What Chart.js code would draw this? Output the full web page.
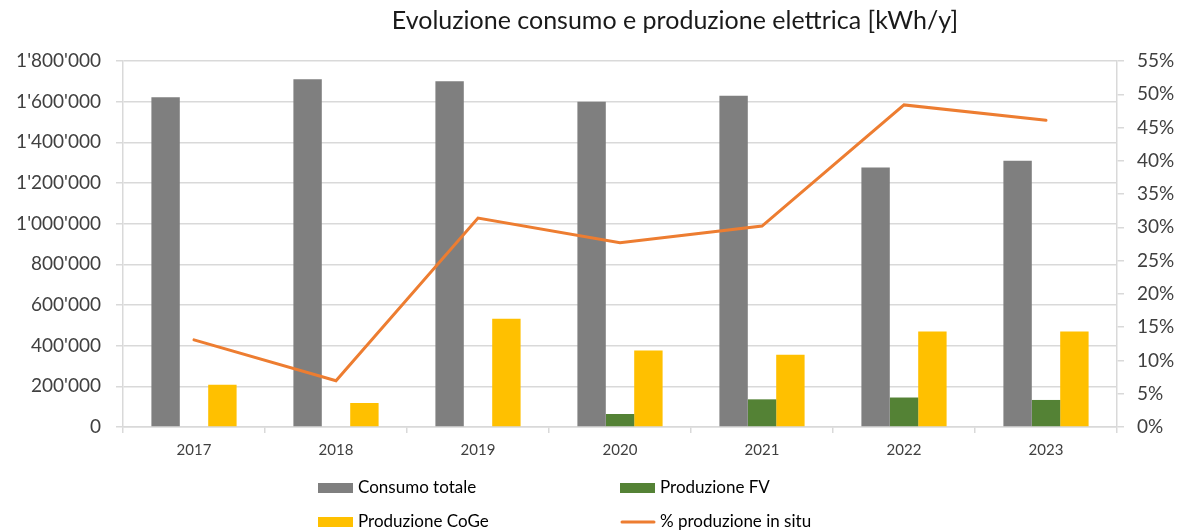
<!DOCTYPE html>
<html>
<head>
<meta charset="utf-8">
<script src="https://cdn.jsdelivr.net/npm/chart.js@4.4.1/dist/chart.umd.min.js"></script>
<style>
  body { margin: 0; background: #fff; }
  canvas { display: block; }
</style>
</head>
<body>
<canvas id="energyChart" width="1183" height="532"></canvas>
<script>
// values
const years = ['2017', '2018', '2019', '2020', '2021', '2022', '2023'];
const consumoTotale = [1622000, 1710000, 1700000, 1600000, 1629000, 1276000, 1310000];
const produzioneFV = [0, 0, 0, 64000, 136000, 145000, 133000];
const produzioneCoGe = [208000, 118000, 532000, 376000, 355000, 470000, 470000];
const percInSitu = [13.1, 6.95, 31.4, 27.7, 30.2, 48.4, 46.1];

const titleText = 'Evoluzione consumo e produzione elettrica [kWh/y]';
const FONT = 'Lato, "Open Sans", sans-serif';
const gridColor = '#d9d9d9';

function withApostrophes(v) {
  return String(v).replace(/\B(?=(\d{3})+(?!\d))/g, "'");
}

// title drawn a bit right of centre, like in the original
const titlePlugin = {
  id: 'offsetTitle',
  afterDraw(chart) {
    const ctx = chart.ctx;
    ctx.save();
    ctx.font = '25px ' + FONT;
    ctx.fillStyle = '#1a1a1a';
    ctx.textAlign = 'center';
    ctx.textBaseline = 'middle';
    ctx.fillText(titleText, 675, 21);
    ctx.restore();
  }
};

// 2x2 legend grid under the axis
const gridLegend = {
  id: 'gridLegend',
  afterDraw(chart) {
    const ctx = chart.ctx;
    const cols = [318, 620];
    const rows = [488, 522];
    ctx.save();
    ctx.font = '17px ' + FONT;
    ctx.textBaseline = 'middle';
    chart.data.datasets.forEach((ds, i) => {
      const x = cols[i % 2];
      const y = rows[Math.floor(i / 2)];
      if (ds.type === 'line') {
        ctx.strokeStyle = ds.borderColor;
        ctx.lineWidth = 3;
        ctx.lineCap = 'round';
        ctx.beginPath();
        ctx.moveTo(x + 2, y);
        ctx.lineTo(x + 34, y);
        ctx.stroke();
      } else {
        ctx.fillStyle = ds.backgroundColor;
        ctx.fillRect(x, y - 5, 35, 10);
      }
      ctx.fillStyle = '#000';
      ctx.fillText(ds.label, x + 40, y);
    });
    ctx.restore();
  }
};

const ctx = document.getElementById('energyChart').getContext('2d');
new Chart(ctx, {
  data: {
    labels: years,
    datasets: [
      {
        type: 'bar',
        label: 'Consumo totale',
        data: consumoTotale,
        backgroundColor: '#7f7f7f',
        yAxisID: 'y',
        order: 1
      },
      {
        type: 'bar',
        label: 'Produzione FV',
        data: produzioneFV,
        backgroundColor: '#548235',
        yAxisID: 'y',
        order: 1
      },
      {
        type: 'bar',
        label: 'Produzione CoGe',
        data: produzioneCoGe,
        backgroundColor: '#ffc000',
        yAxisID: 'y',
        order: 1
      },
      {
        type: 'line',
        label: '% produzione in situ',
        data: percInSitu,
        borderColor: '#ed7d31',
        backgroundColor: '#ed7d31',
        borderWidth: 3,
        borderCapStyle: 'round',
        pointRadius: 0,
        tension: 0,
        yAxisID: 'y1',
        order: 0
      }
    ]
  },
  options: {
    responsive: false,
    animation: false,
    categoryPercentage: 0.6,
    barPercentage: 1.0,
    layout: {
      padding: { top: 61, bottom: 68, left: 0, right: 0 }
    },
    plugins: {
      legend: { display: false },
      title: { display: false },
      tooltip: { enabled: false }
    },
    scales: {
      x: {
        grid: {
          display: true,
          drawOnChartArea: false,
          drawTicks: true,
          tickLength: 6,
          color: gridColor,
          lineWidth: 1.5
        },
        border: { display: true, color: gridColor, width: 1.5 },
        ticks: {
          color: '#404040',
          font: { family: FONT, size: 15 },
          padding: 8
        },
        afterFit(scale) { scale.height = 37; }
      },
      y: {
        position: 'left',
        min: 0,
        max: 1800000,
        grid: {
          color: gridColor,
          lineWidth: 1.5,
          tickLength: 7
        },
        border: { display: true, color: gridColor, width: 1.5 },
        ticks: {
          stepSize: 200000,
          color: '#404040',
          font: { family: FONT, size: 19 },
          padding: 15,
          callback: v => withApostrophes(v)
        },
        afterFit(scale) { scale.width = 123; }
      },
      y1: {
        position: 'right',
        min: 0,
        max: 55,
        grid: {
          drawOnChartArea: false,
          color: gridColor,
          lineWidth: 1.5,
          tickLength: 7
        },
        border: { display: true, color: gridColor, width: 1.5 },
        ticks: {
          stepSize: 5,
          color: '#404040',
          font: { family: FONT, size: 19 },
          padding: 13,
          callback: v => v + '%'
        },
        afterFit(scale) { scale.width = 66; }
      }
    }
  },
  plugins: [titlePlugin, gridLegend]
});
</script>
</body>
</html>
